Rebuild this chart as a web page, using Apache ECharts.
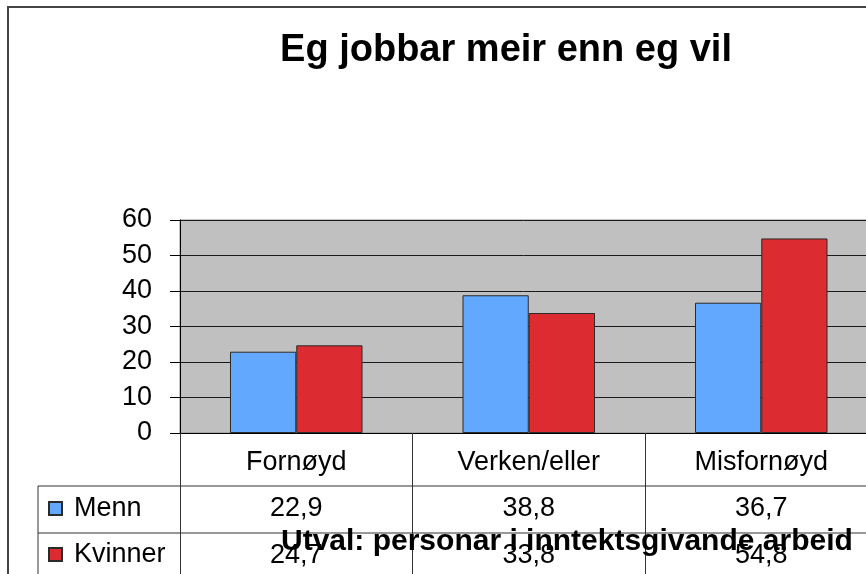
<!DOCTYPE html>
<html>
<head>
<meta charset="utf-8">
<script src="https://cdn.jsdelivr.net/npm/echarts@6/dist/echarts.min.js"></script>
<style>
  html, body { margin: 0; padding: 0; background: #fff; }
  #chart { width: 866px; height: 574px; }
</style>
</head>
<body>
<div id="chart"></div>
<script>
var categories = ['Fornøyd', 'Verken/eller', 'Misfornøyd'];
var menn = [22.9, 38.8, 36.7];
var kvinner = [24.7, 33.8, 54.8];
var seriesNames = ['Menn', 'Kvinner'];
var yTicks = [0, 10, 20, 30, 40, 50, 60];

var FONT = '"Liberation Sans", Arial, sans-serif';

function fmt(v) {
  return v.toFixed(1).replace('.', ',');
}

// one legend per table row, so they line up with the rows
function rowLegend(name, top) {
  return {
    orient: 'vertical',
    left: 43,
    top: top,
    itemWidth: 13,
    itemHeight: 13,
    icon: 'rect',
    data: [name],
    textStyle: { fontFamily: FONT, fontSize: 27, color: '#000', padding: [0, 0, 0, 7] }
  };
}

var chart = echarts.init(document.getElementById('chart'));

var option = {
  animation: false,
  textStyle: { fontFamily: FONT },
  title: [
    {
      text: 'Eg jobbar meir enn eg vil',
      left: 501,
      top: 27,
      textAlign: 'center',
      textStyle: { fontFamily: FONT, fontSize: 38, fontWeight: 'bold', color: '#000' }
    },
    {
      text: 'Utval: personar i inntektsgivande arbeid',
      left: 276,
      top: 522,
      textStyle: { fontFamily: FONT, fontSize: 30, fontWeight: 'bold', color: '#000' }
    }
  ],
  legend: [rowLegend(seriesNames[0], 490), rowLegend(seriesNames[1], 536)],
  grid: {
    left: 180,
    top: 220,
    bottom: 141,
    width: 697.5,
    outerBoundsMode: 'none',
    show: true,
    backgroundColor: '#c0c0c0',
    borderColor: '#8a8a8a',
    borderWidth: 1
  },
  xAxis: {
    type: 'category',
    data: categories,
    boundaryGap: true,
    axisLine: { show: true, lineStyle: { color: '#000', width: 1 } },
    axisTick: { show: true, inside: false, length: 141, lineStyle: { color: '#333', width: 1 } },
    axisLabel: {
      margin: 6,
      interval: 0,
      formatter: function (name, i) {
        return '{c|' + name + '}\n{v|' + fmt(menn[i]) + '}\n{v|' + fmt(kvinner[i]) + '}';
      },
      rich: {
        c: { fontFamily: FONT, fontSize: 27, lineHeight: 46.5, color: '#000' },
        v: { fontFamily: FONT, fontSize: 27, lineHeight: 46.5, color: '#000' }
      }
    }
  },
  yAxis: {
    type: 'value',
    min: yTicks[0],
    max: yTicks[yTicks.length - 1],
    interval: yTicks[1] - yTicks[0],
    axisLine: { show: true, lineStyle: { color: '#000', width: 1 } },
    axisTick: { show: true, length: 10, lineStyle: { color: '#000', width: 1 } },
    splitLine: { show: true, lineStyle: { color: '#1a1a1a', width: 1 } },
    axisLabel: { margin: 28, fontFamily: FONT, fontSize: 27, color: '#000' }
  },
  series: [
    {
      name: seriesNames[0],
      type: 'bar',
      data: menn,
      barGap: '0%',
      barCategoryGap: '43%',
      itemStyle: { color: '#62a8ff', borderColor: '#2b2b2b', borderWidth: 1 }
    },
    {
      name: seriesNames[1],
      type: 'bar',
      data: kvinner,
      barGap: '0%',
      barCategoryGap: '43%',
      itemStyle: { color: '#dc2b31', borderColor: '#2b2b2b', borderWidth: 1 }
    }
  ],
  graphic: [
    // outer chart frame
    { type: 'rect', shape: { x: 8, y: 7, width: 900, height: 600 }, style: { fill: 'none', stroke: '#444', lineWidth: 2 }, z: -10 },
    // data table borders
    { type: 'line', shape: { x1: 38, y1: 486, x2: 866, y2: 486 }, style: { stroke: '#333', lineWidth: 1 } },
    { type: 'line', shape: { x1: 38, y1: 533, x2: 866, y2: 533 }, style: { stroke: '#333', lineWidth: 1 } },
    { type: 'line', shape: { x1: 38, y1: 486, x2: 38, y2: 574 }, style: { stroke: '#333', lineWidth: 1 } }
  ]
};

chart.setOption(option);
</script>
</body>
</html>
